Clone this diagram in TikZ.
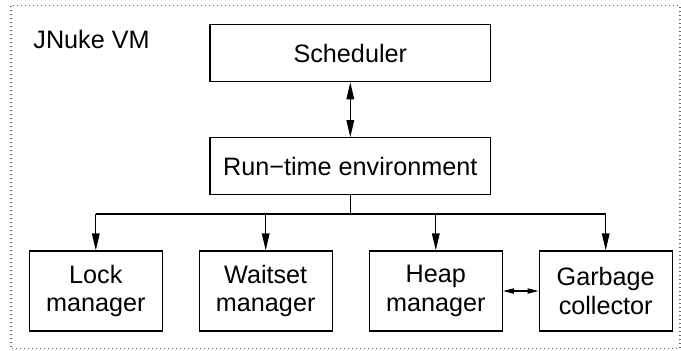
\documentclass[tikz,border=0pt]{standalone}
\usepackage{fontspec}
\setmainfont{Liberation Sans}
\usetikzlibrary{arrows.meta}
\begin{document}
\begin{tikzpicture}[x=0.5pt,y=-0.5pt,
  every node/.style={font=\fontsize{12.6}{14.2}\selectfont},
  module/.style={draw,line width=0.6pt,inner sep=0pt,align=center},
  wide/.style={module,minimum width=140.3pt,minimum height=28.5pt},
  unit/.style={module,minimum width=66.5pt,minimum height=40pt},
  link/.style={line width=0.6pt},
  bigtip/.style={-{Triangle[length=8.5pt,width=3.8pt]}},
  bigboth/.style={{Triangle[length=8.5pt,width=3.8pt]}-{Triangle[length=8.5pt,width=3.8pt]}},
  smallboth/.style={{Triangle[length=5.5pt,width=2.6pt]}-{Triangle[length=5.5pt,width=2.6pt]}}]
  \useasboundingbox (0,0) rectangle (681,350);
  % dotted frame of the virtual machine
  \draw[gray!80!black,line width=0.6pt,dash pattern=on 0.5pt off 1.5pt] (11,5.7) rectangle (680,348.3);
  \node[anchor=base west,inner sep=0pt] (title) at (33,48) {JNuke VM};
  % top level components
  \node[wide] (sched) at (350.3,53.2) {Scheduler};
  \node[wide] (rte) at (350.3,166.2) {Run−time environment};
  % managers
  \node[unit] (lock) at (95.8,291) {Lock\\manager};
  \node[unit] (wait) at (265.7,291) {Waitset\\manager};
  \node[unit] (heap) at (435.8,291) {Heap\\manager};
  \node[unit] (gc) at (605.7,291) {Garbage\\collector};
  % connectors
  \draw[link,bigboth] (sched.south) -- (rte.north);
  \coordinate (bus) at (350.3,214);
  \draw[link] (rte.south) -- (bus);
  \draw[link] (lock.north |- bus) -- (gc.north |- bus);
  \foreach \m in {lock,wait,heap,gc}
    \draw[link,bigtip] (\m.north |- bus) -- (\m.north);
  \draw[link,smallboth] (heap.east) -- (gc.west);
\end{tikzpicture}
\end{document}
